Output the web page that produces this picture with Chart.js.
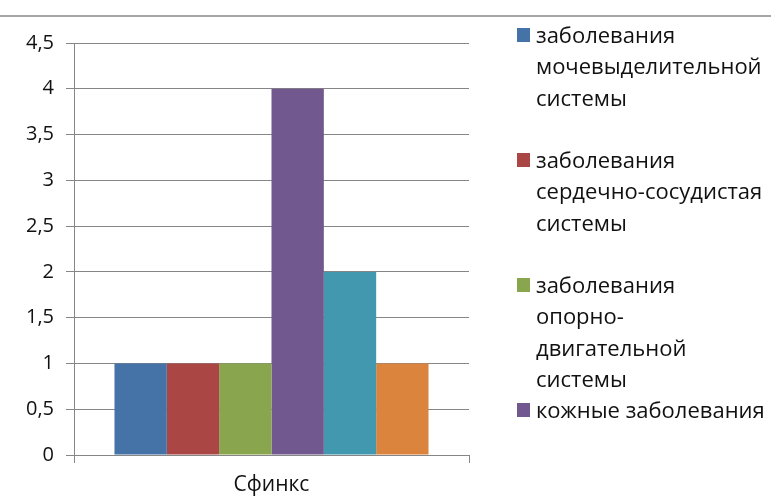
<!DOCTYPE html>
<html>
<head>
<meta charset="utf-8">
<script src="https://cdn.jsdelivr.net/npm/chart.js@4/dist/chart.umd.min.js"></script>
<style>
  body { margin: 0; background: #fff; }
  #wrap { position: relative; width: 771px; height: 497px; overflow: hidden; font-family: "Open Sans", sans-serif; }
  #topLine { position: absolute; left: 0; top: 15px; width: 771px; height: 2px; background: #a6a6a6; }
  #legend { position: absolute; left: 517px; top: 19px; font-size: 22px; line-height: 31.25px; color: #111; white-space: nowrap; }
  .item { position: relative; padding-left: 19px; }
  .item .sw { position: absolute; left: 0; top: 9px; width: 13px; height: 14px; }
</style>
</head>
<body>
<div id="wrap">
  <canvas id="chart" width="771" height="497"></canvas>
  <div id="topLine"></div>
  <div id="legend"></div>
</div>
<script>
// данные
const categories = ['Сфинкс'];
const seriesNames = [
  ['заболевания', 'мочевыделительной', 'системы'],
  ['заболевания', 'сердечно-сосудистая', 'системы'],
  ['заболевания', 'опорно-', 'двигательной', 'системы'],
  ['кожные заболевания'],
  ['ряд 5'],
  ['ряд 6']
];
const seriesValues = [[1], [1], [1], [4], [2], [1]];
const colors = ['#4572a7', '#aa4643', '#89a54e', '#71588f', '#4198af', '#db843d'];
const yTicks = [0, 0.5, 1, 1.5, 2, 2.5, 3, 3.5, 4, 4.5];

const gridColor = '#868686';
const font = { family: '"Open Sans", sans-serif', size: 20 };

const chart = new Chart(document.getElementById('chart'), {
  type: 'bar',
  data: {
    labels: categories,
    datasets: seriesValues.map((vals, i) => ({
      label: seriesNames[i].join(' '),
      data: vals,
      backgroundColor: colors[i],
      borderWidth: 0,
      barPercentage: 1,
      categoryPercentage: 0.795
    }))
  },
  options: {
    responsive: false,
    animation: false,
    layout: { padding: { left: 0, top: 43, right: 302, bottom: 0 } },
    plugins: { legend: { display: false }, tooltip: { enabled: false } },
    scales: {
      y: {
        min: yTicks[0],
        max: yTicks[yTicks.length - 1],
        afterBuildTicks: s => { s.ticks = yTicks.map(v => ({ value: v })); },
        afterFit: s => { s.width = 74; },
        grid: { color: gridColor, tickLength: 8 },
        border: { color: gridColor },
        ticks: {
          color: '#111',
          font,
          padding: 12,
          callback: v => String(v).replace('.', ',')
        }
      },
      x: {
        afterFit: s => { s.height = 42; },
        grid: { drawOnChartArea: false, color: gridColor, tickLength: 8, offset: true },
        border: { color: gridColor },
        ticks: { color: '#111', font: { family: font.family, size: 21 }, padding: 9 }
      }
    }
  }
});

// легенда в Excel обрезана: видны только первые 4 ряда
const legend = document.getElementById('legend');
const gaps = [31.25, 31.25, 0, 0];
chart.data.datasets.slice(0, 4).forEach((ds, i) => {
  const item = document.createElement('div');
  item.className = 'item';
  item.style.marginBottom = gaps[i] + 'px';
  item.innerHTML = '<span class="sw" style="background:' + ds.backgroundColor + '"></span>' +
    seriesNames[i].join('<br>');
  legend.appendChild(item);
});
</script>
</body>
</html>
